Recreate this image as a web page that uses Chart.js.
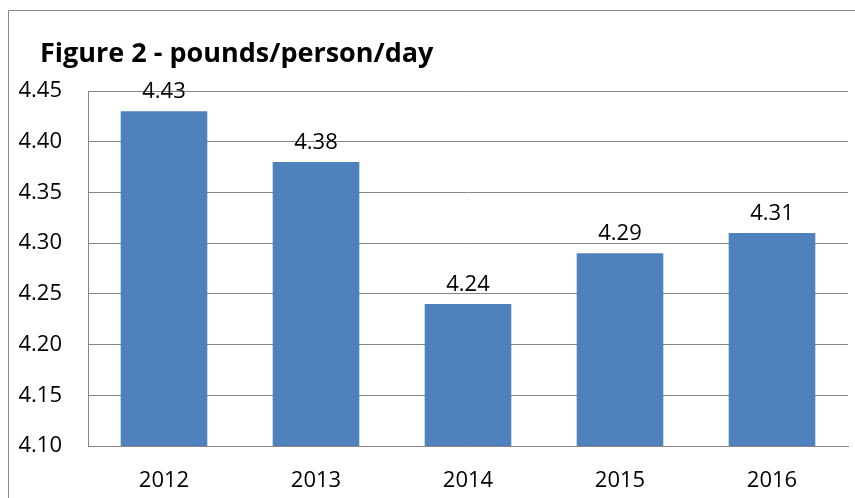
<!DOCTYPE html>
<html>
<head>
<meta charset="utf-8">
<script src="https://cdn.jsdelivr.net/npm/chart.js@4"></script>
<style>
  body { margin: 0; background: #fff; }
  #wrap { position: relative; width: 855px; height: 498px; overflow: hidden; }
  #frame { position: absolute; left: 8px; top: 10px; width: 900px; height: 600px; border: 1px solid #8c8c8c; }
  #myChart { position: absolute; left: 0; top: 0; }
</style>
</head>
<body>
<div id="wrap">
  <div id="frame"></div>
  <canvas id="myChart" width="855" height="498"></canvas>
</div>
<script>
  const years = ['2012', '2013', '2014', '2015', '2016'];
  const pounds = [4.43, 4.38, 4.24, 4.29, 4.31]; // pounds/person/day
  const yMin = 4.10;
  const yMax = 4.45;
  const yStep = 0.05;
  const titleText = 'Figure 2 - pounds/person/day';

  const fontName = '"Open Sans", Lato, sans-serif';

  // заголовок зліва, як у вихідному графіку
  const leftTitle = {
    id: 'leftTitle',
    afterDraw(chart) {
      const ctx = chart.ctx;
      ctx.save();
      ctx.font = 'bold 27px ' + fontName;
      ctx.fillStyle = '#000';
      ctx.textAlign = 'left';
      ctx.textBaseline = 'alphabetic';
      ctx.fillText(titleText, 40, 62);
      ctx.restore();
    }
  };

  // підписи значень над стовпцями
  const barLabels = {
    id: 'barLabels',
    afterDatasetsDraw(chart) {
      const ctx = chart.ctx;
      const meta = chart.getDatasetMeta(0);
      ctx.save();
      ctx.font = '22px ' + fontName;
      ctx.fillStyle = '#000';
      ctx.textAlign = 'center';
      ctx.textBaseline = 'alphabetic';
      meta.data.forEach((bar, i) => {
        ctx.fillText(pounds[i].toFixed(2), bar.x, bar.y - 13);
      });
      ctx.restore();
    }
  };

  const ctx = document.getElementById('myChart').getContext('2d');

  const myChart = new Chart(ctx, {
    type: 'bar',
    data: {
      labels: years,
      datasets: [{
        label: 'pounds/person/day',
        data: pounds,
        backgroundColor: '#4F81BD',
        borderWidth: 0,
        categoryPercentage: 1,
        barPercentage: 0.57,
      }],
    },
    options: {
      responsive: false,
      animation: false,
      layout: { padding: { left: 10, right: 7, top: 91, bottom: 0 } },
      plugins: {
        legend: { display: false },
        tooltip: { enabled: false },
        title: { display: false },
      },
      scales: {
        x: {
          grid: { display: false, drawTicks: false },
          border: { display: true, color: '#868686', width: 1 },
          ticks: { color: '#000', font: { family: fontName, size: 22 }, padding: 22 },
          afterFit(scale) { scale.height = 52; },
        },
        y: {
          min: yMin,
          max: yMax,
          grid: { color: '#868686', lineWidth: 1, drawTicks: false },
          border: { display: true, color: '#868686', width: 1 },
          ticks: {
            stepSize: yStep,
            color: '#000',
            font: { family: fontName, size: 22 },
            padding: 26,
            callback: v => v.toFixed(2),
          },
          afterFit(scale) { scale.width = 78; },
        },
      },
    },
    plugins: [barLabels, leftTitle],
  });
</script>
</body>
</html>
